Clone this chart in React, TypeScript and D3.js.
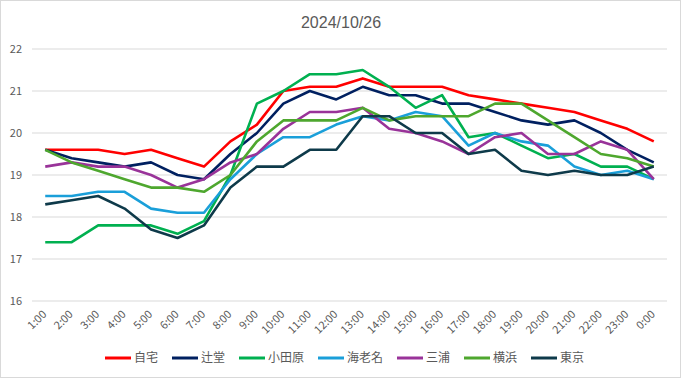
import React from "react";
import * as d3 from "d3";

const title = "2024/10/26";
const hours = ["1:00","2:00","3:00","4:00","5:00","6:00","7:00","8:00","9:00","10:00","11:00","12:00","13:00","14:00","15:00","16:00","17:00","18:00","19:00","20:00","21:00","22:00","23:00","0:00"];
const yTicks = [16, 17, 18, 19, 20, 21, 22];

const jitaku = [19.6,19.6,19.6,19.5,19.6,19.4,19.2,19.8,20.2,21.0,21.1,21.1,21.3,21.1,21.1,21.1,20.9,20.8,20.7,20.6,20.5,20.3,20.1,19.8];
const tsujido = [19.6,19.4,19.3,19.2,19.3,19.0,18.9,19.5,20.0,20.7,21.0,20.8,21.1,20.9,20.9,20.7,20.7,20.5,20.3,20.2,20.3,20.0,19.6,19.3];
const odawara = [17.4,17.4,17.8,17.8,17.8,17.6,17.9,19.0,20.7,21.0,21.4,21.4,21.5,21.1,20.6,20.9,19.9,20.0,19.7,19.4,19.5,19.2,19.2,18.9];
const ebina = [18.5,18.5,18.6,18.6,18.2,18.1,18.1,18.9,19.5,19.9,19.9,20.2,20.4,20.3,20.5,20.4,19.7,20.0,19.8,19.7,19.2,19.0,19.1,18.9];
const miura = [19.2,19.3,19.2,19.2,19.0,18.7,18.9,19.3,19.5,20.1,20.5,20.5,20.6,20.1,20.0,19.8,19.5,19.9,20.0,19.5,19.5,19.8,19.6,18.9];
const yokohama = [19.6,19.3,19.1,18.9,18.7,18.7,18.6,19.0,19.8,20.3,20.3,20.3,20.6,20.3,20.4,20.4,20.4,20.7,20.7,20.3,19.9,19.5,19.4,19.2];
const tokyo = [18.3,18.4,18.5,18.2,17.7,17.5,17.8,18.7,19.2,19.2,19.6,19.6,20.4,20.4,20.0,20.0,19.5,19.6,19.1,19.0,19.1,19.0,19.0,19.2];

const seriesNames = ["自宅","辻堂","小田原","海老名","三浦","横浜","東京"];
const seriesColors = ["#ff0000","#002060","#00b050","#1a9fd9","#993399","#4ea72e","#0e3a4a"];
const seriesValues = [jitaku, tsujido, odawara, ebina, miura, yokohama, tokyo];

const W = 681, H = 378;
const font = "'Noto Sans CJK JP', 'Noto Sans', sans-serif";

export default function App() {
  const x = d3.scaleBand<string>().domain(hours).range([32, 667]);
  const y = d3.scaleLinear().domain([16, 22]).range([301, 49]);
  const cx = (h: string) => (x(h) as number) + x.bandwidth() / 2;
  const line = d3.line<number>().x((_, i) => cx(hours[i])).y((v) => y(v));

  const swatch = 26, charW = 12, gap = 14;
  let lx = 105;
  const legendItems = seriesNames.map((n, i) => {
    const item = { n, i, x: lx };
    lx += swatch + 3 + n.length * charW + gap;
    return item;
  });

  return (
    <svg width={W} height={H} style={{ position: "absolute", left: 0, top: 0, background: "#fff" }} fontFamily={font}>
      <rect x={0.5} y={0.5} width={W - 1} height={H - 1} fill="#fff" stroke="#d9d9d9" />
      <text x={341} y={28} textAnchor="middle" fontSize={16} fill="#595959" fontFamily="'Liberation Sans', Arial, sans-serif">{title}</text>
      {yTicks.map((t) => (
        <g key={t}>
          <line x1={32} x2={667} y1={y(t)} y2={y(t)} stroke="#d9d9d9" strokeWidth={1} />
          <text x={22} y={y(t) + 4} textAnchor="end" fontSize={11} fill="#595959">{t}</text>
        </g>
      ))}
      {hours.map((h) => (
        <text key={h} transform={`translate(${cx(h) + 2},${315}) rotate(-45)`} textAnchor="end" fontSize={11} fill="#595959">{h}</text>
      ))}
      {seriesValues.map((vals, i) => (
        <path key={i} d={line(vals) as string} fill="none" stroke={seriesColors[i]} strokeWidth={2.6} strokeLinejoin="round" />
      ))}
      {legendItems.map(({ n, i, x: px }) => (
        <g key={n}>
          <line x1={px} x2={px + swatch} y1={358} y2={358} stroke={seriesColors[i]} strokeWidth={3} />
          <text x={px + swatch + 3} y={362} fontSize={12} fill="#595959">{n}</text>
        </g>
      ))}
    </svg>
  );
}
